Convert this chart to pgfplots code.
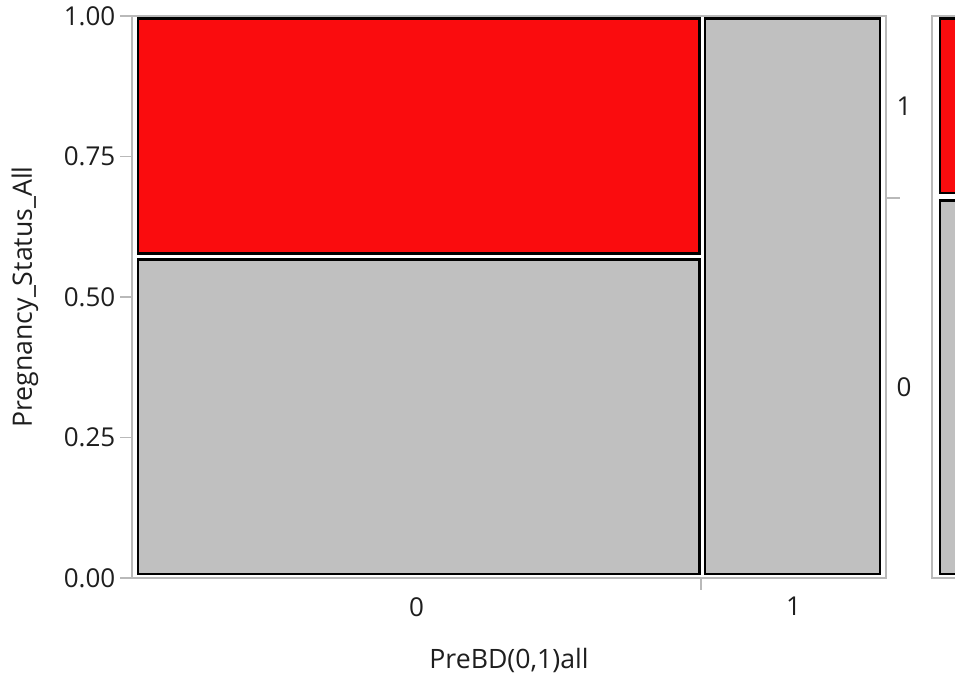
\documentclass[border=0pt]{standalone}
\usepackage{pgfplots}
\pgfplotsset{compat=1.18}
\usepackage{fontspec}
\setmainfont{Open Sans}
\definecolor{tilered}{RGB}{250,12,14}
\definecolor{tilegray}{RGB}{192,192,192}
\definecolor{framegray}{RGB}{185,185,185}
\definecolor{txt}{RGB}{30,30,30}
\newcommand\ff{\fontsize{19.5}{23}\selectfont}
\newcommand\fl{\fontsize{20}{24}\selectfont}
\begin{document}
\begin{tikzpicture}
\useasboundingbox (0,0) rectangle (716.25pt,505.5pt);
\begin{axis}[
  at={(99pt,72pt)}, anchor=south west, scale only axis,
  width=565.5pt, height=421.5pt,
  xmin=0, xmax=1, ymin=0, ymax=1, clip=false,
  axis line style={draw=framegray, line width=1.5pt},
  tick align=outside,
  ytick={0,0.25,0.5,0.75,1},
  yticklabels={0.00,0.25,0.50,0.75,1.00},
  major tick length=9pt,
  ytick style={draw=framegray, line width=1.2pt},
  ytick pos=left,
  xtick={0.3775,0.8775},
  xticklabels={0,1},
  xtick style={draw=none},
  xtick pos=bottom,
  xticklabel style={yshift=-2pt},
  tick label style={font=\ff, text=txt},
  /pgf/number format/assume math mode=true,
  xlabel={PreBD(0,1)all},
  ylabel={Pregnancy\_Status\_All},
  label style={font=\fl, text=txt},
  xlabel style={at={(axis description cs:0.5,-0.146)}, anchor=center},
  ylabel style={at={(axis description cs:-0.142,0.5)}, anchor=center},
]
% column 0 (PreBD=0, width 0.755): status 1 share 0.425, status 0 share 0.575
\addplot[fill=tilered, draw=black, line width=2pt] coordinates {(0.008,0.577) (0.753,0.577) (0.753,0.995) (0.008,0.995)} -- cycle;
\addplot[fill=tilegray, draw=black, line width=2pt] coordinates {(0.008,0.007) (0.753,0.007) (0.753,0.567) (0.008,0.567)} -- cycle;
% column 1 (PreBD=1, width 0.245): all status 0
\addplot[fill=tilegray, draw=black, line width=2pt] coordinates {(0.760,0.007) (0.992,0.007) (0.992,0.995) (0.760,0.995)} -- cycle;
\draw[framegray, line width=1.2pt] (axis cs:0.755,0) -- ++(0,-9pt);
\draw[framegray, line width=1.2pt] (axis cs:1,0.676) -- ++(10.5pt,0);
\node[font=\ff, text=txt] at (axis cs:1,0.84) [xshift=13.5pt] {1};
\node[font=\ff, text=txt] at (axis cs:1,0.34) [xshift=13.5pt] {0};
\end{axis}
\begin{axis}[
  at={(699pt,72pt)}, anchor=south west, scale only axis,
  width=60pt, height=421.5pt,
  xmin=0, xmax=1, ymin=0, ymax=1, clip=false,
  axis line style={draw=framegray, line width=1.5pt},
  xtick=\empty, ytick=\empty,
]
% marginal: status 1 share 0.32, status 0 share 0.68
\addplot[fill=tilered, draw=black, line width=2pt] coordinates {(0.1,0.685) (0.9,0.685) (0.9,0.995) (0.1,0.995)} -- cycle;
\addplot[fill=tilegray, draw=black, line width=2pt] coordinates {(0.1,0.007) (0.9,0.007) (0.9,0.672) (0.1,0.672)} -- cycle;
\end{axis}
\end{tikzpicture}
\end{document}
